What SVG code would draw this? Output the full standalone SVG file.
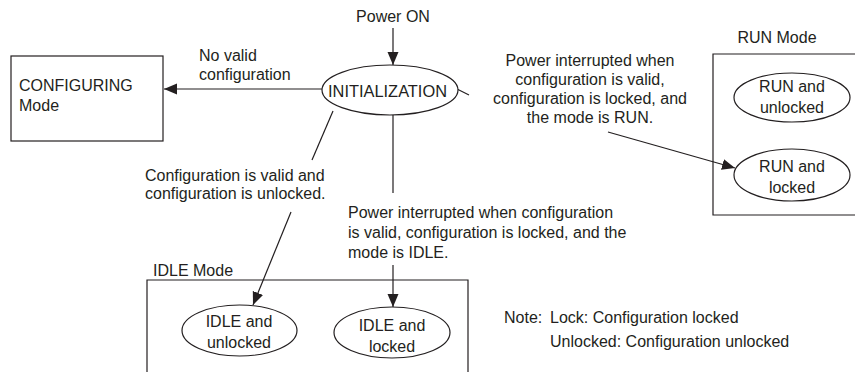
<svg xmlns="http://www.w3.org/2000/svg" width="855" height="372" viewBox="0 0 855 372">
<style>
text{font-family:"Liberation Sans",Arial,sans-serif;font-size:16px;fill:#231f20}
.c{text-anchor:middle}
.s{fill:none;stroke:#231f20;stroke-width:1.2}
.w{fill:#fff;stroke:#231f20;stroke-width:1.2}
</style>
<defs>
<marker id="ah" markerUnits="userSpaceOnUse" markerWidth="14" markerHeight="12" refX="13" refY="6" orient="auto">
<path d="M0,0.5 L13,6 L0,11.5 Z" fill="#231f20"/>
</marker>
</defs>
<rect width="855" height="372" fill="#fff"/>
<g id="connectors" class="s">
<line x1="393" y1="28" x2="393" y2="65" marker-end="url(#ah)"/>
<line x1="322" y1="89" x2="164" y2="89" marker-end="url(#ah)"/>
<line x1="457" y1="89" x2="469" y2="95"/>
<line x1="608" y1="132" x2="735" y2="168" marker-end="url(#ah)"/>
<line x1="333" y1="111" x2="312" y2="160"/>
<line x1="291" y1="212" x2="253" y2="305" marker-end="url(#ah)"/>
<line x1="393" y1="115" x2="393" y2="193"/>
<line x1="393" y1="265" x2="393" y2="307" marker-end="url(#ah)"/>
</g>
<g id="power-on"><text x="393" y="22" class="c">Power ON</text></g>
<g id="initialization">
<ellipse cx="390" cy="90" rx="68" ry="25" class="w"/>
<text x="328" y="97" textLength="119" lengthAdjust="spacingAndGlyphs">INITIALIZATION</text>
</g>
<g id="configuring">
<rect x="11" y="56" width="152" height="85" class="w"/>
<text x="19" y="91">CONFIGURING</text>
<text x="19" y="111">Mode</text>
</g>
<g id="label-novalid">
<text x="199" y="61">No valid</text>
<text x="199" y="80">configuration</text>
</g>
<g id="label-run">
<text x="590" y="66" class="c">Power interrupted when</text>
<text x="590" y="85" class="c">configuration is valid,</text>
<text x="590" y="104" class="c">configuration is locked, and</text>
<text x="590" y="123" class="c">the mode is RUN.</text>
</g>
<g id="label-valid">
<text x="145" y="181">Configuration is valid and</text>
<text x="145" y="199">configuration is unlocked.</text>
</g>
<g id="label-idle">
<text x="348" y="218">Power interrupted when configuration</text>
<text x="348" y="238">is valid, configuration is locked, and the</text>
<text x="348" y="258">mode is IDLE.</text>
</g>
<g id="run-mode">
<text x="777" y="43" class="c">RUN Mode</text>
<path d="M856,54 H713 V215 H856" class="s"/>
</g>
<g id="run-unlocked">
<ellipse cx="792" cy="97.5" rx="58" ry="24.5" class="w"/>
<text x="792" y="92" class="c">RUN and</text>
<text x="792" y="113" class="c">unlocked</text>
</g>
<g id="run-locked">
<ellipse cx="792" cy="175" rx="58" ry="26" class="w"/>
<text x="792" y="172" class="c">RUN and</text>
<text x="792" y="193" class="c">locked</text>
</g>
<g id="idle-mode">
<text x="153" y="276">IDLE Mode</text>
<path d="M147,380 V280 H468 V380" class="s"/>
</g>
<g id="idle-unlocked">
<ellipse cx="239.5" cy="330.5" rx="57.5" ry="25.5" class="w"/>
<text x="239" y="327" class="c">IDLE and</text>
<text x="239" y="348" class="c">unlocked</text>
</g>
<g id="idle-locked">
<ellipse cx="392" cy="332.5" rx="58" ry="25.5" class="w"/>
<text x="392" y="331" class="c">IDLE and</text>
<text x="392" y="352" class="c">locked</text>
</g>
<g id="note">
<text x="504" y="323">Note:</text>
<text x="550" y="323">Lock: Configuration locked</text>
<text x="550" y="347">Unlocked: Configuration unlocked</text>
</g>
</svg>
